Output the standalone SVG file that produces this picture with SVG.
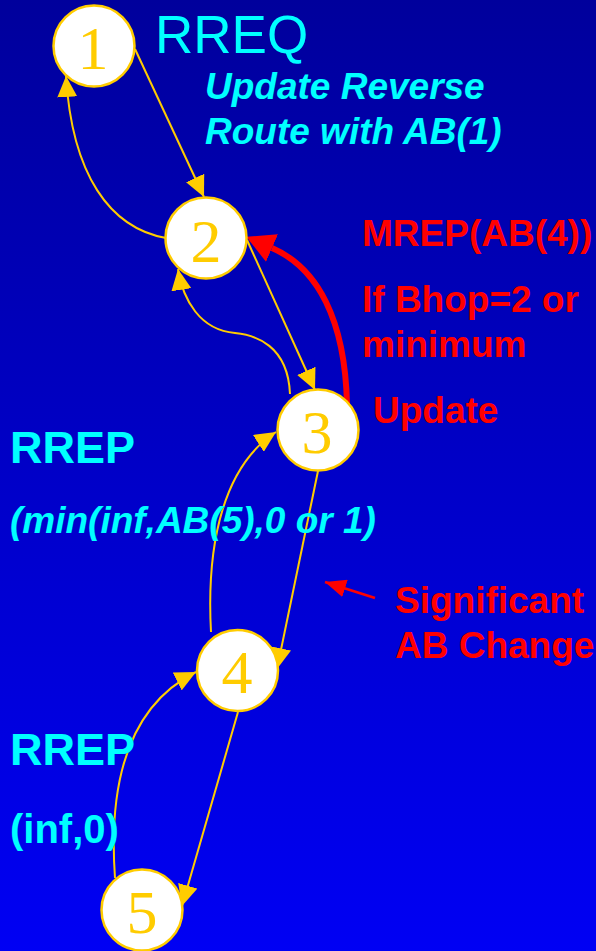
<svg xmlns="http://www.w3.org/2000/svg" width="596" height="951" viewBox="0 0 596 951">
  <defs>
    <linearGradient id="bg" x1="0" y1="0" x2="0" y2="1">
      <stop offset="0" stop-color="#00009C"/>
      <stop offset="1" stop-color="#0000F4"/>
    </linearGradient>
    <marker id="gold-head" markerUnits="userSpaceOnUse" markerWidth="21" markerHeight="20" viewBox="0 0 21 20" refX="21" refY="10" orient="auto">
      <path d="M0,0 L21,10 L0,20 z" fill="#FFCC00"/>
    </marker>
    <marker id="red-head" markerUnits="userSpaceOnUse" markerWidth="28" markerHeight="30" viewBox="0 0 28 30" refX="0" refY="15" orient="auto">
      <path d="M0,0 L28,15 L0,30 z" fill="#FF0000"/>
    </marker>
    <marker id="red-small" markerUnits="userSpaceOnUse" markerWidth="21" markerHeight="18" viewBox="0 0 21 18" refX="21" refY="9" orient="auto">
      <path d="M0,0 L21,9 L0,18 z" fill="#FF0000"/>
    </marker>
  </defs>
  <style>
    .link { fill: none; stroke: #FFCC00; stroke-width: 2; marker-end: url(#gold-head); }
    .node circle { fill: #FFFFFF; stroke: #FFCC00; stroke-width: 2.5; }
    .node text { font-family: "Liberation Serif", "Times New Roman", serif; font-size: 62px; fill: #FFCC00; text-anchor: middle; }
    .lbl { font-family: "Liberation Sans", Arial, sans-serif; font-weight: bold; font-size: 37px; }
    .big { font-size: 45px; }
    .mid { font-size: 40px; }
    .cyan { fill: #00FFFF; }
    .red { fill: #FF0000; }
  </style>

  <rect x="0" y="0" width="596" height="951" fill="url(#bg)"/>

  <!-- connectors -->
  <g id="connectors">
    <path class="link" d="M135,49 L204,197"/>
    <path class="link" d="M166,238 C 110,228 72,175 66,76"/>
    <path class="link" d="M247,240 L315,390"/>
    <path class="link" d="M290,394 C 288,345 255,335 235,333 C 200,330 183,300 178,269"/>
    <path d="M347,404 C 345,320 318,268 272,248" fill="none" stroke="#FF0000" stroke-width="6" marker-end="url(#red-head)"/>
    <path class="link" d="M318,471 L277,669"/>
    <path class="link" d="M211,632 C 206,540 225,465 276,432"/>
    <path class="link" d="M238,712 L182,906"/>
    <path class="link" d="M115,878 C 108,780 130,705 196,672"/>
    <path d="M375,598 L325,582" fill="none" stroke="#FF0000" stroke-width="2.5" marker-end="url(#red-small)"/>
  </g>

  <!-- nodes -->
  <g id="node1" class="node"><circle cx="94" cy="46" r="40.5"/><text x="93" y="69">1</text></g>
  <g id="node2" class="node"><circle cx="206" cy="238" r="40.5"/><text x="206" y="262">2</text></g>
  <g id="node3" class="node"><circle cx="318" cy="430" r="40.5"/><text x="317" y="453">3</text></g>
  <g id="node4" class="node"><circle cx="237.5" cy="670.5" r="40.5"/><text x="237" y="693">4</text></g>
  <g id="node5" class="node"><circle cx="142" cy="910" r="40.5"/><text x="142" y="933">5</text></g>

  <!-- labels -->
  <text x="155" y="53" font-family="'Liberation Sans', Arial, sans-serif" font-size="53" fill="#00FFFF">RREQ</text>
  <text class="lbl cyan" font-style="italic" x="205" y="99">Update Reverse</text>
  <text class="lbl cyan" font-style="italic" x="205" y="144">Route with AB(1)</text>

  <text class="lbl red" x="362" y="246">MREP(AB(4))</text>
  <text class="lbl red" x="362" y="312">If Bhop=2 or</text>
  <text class="lbl red" x="362" y="357">minimum</text>
  <text class="lbl red" x="373" y="423">Update</text>

  <text class="lbl big cyan" x="10" y="463">RREP</text>
  <text class="lbl cyan" font-style="italic" x="10" y="533">(min(inf,AB(5),0 or 1)</text>

  <text class="lbl red" x="395" y="613">Significant</text>
  <text class="lbl red" x="395" y="658">AB Change</text>

  <text class="lbl big cyan" x="10" y="765">RREP</text>
  <text class="lbl mid cyan" x="10" y="843">(inf,0)</text>
</svg>
